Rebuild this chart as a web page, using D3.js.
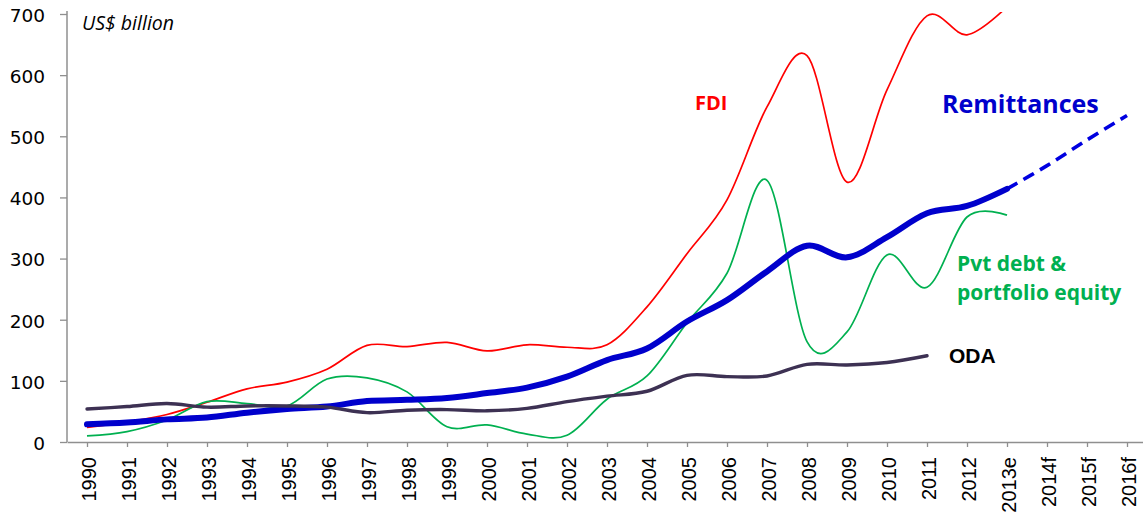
<!DOCTYPE html>
<html>
<head>
<meta charset="utf-8">
<script src="https://cdn.jsdelivr.net/npm/d3@7"></script>
<style>
  html, body { margin: 0; padding: 0; background: #fff; }
  svg { display: block; }
</style>
</head>
<body>
<svg id="chart" width="1143" height="514"></svg>
<script>
// ---- Data (US$ billion) ----
const years = ["1990","1991","1992","1993","1994","1995","1996","1997","1998","1999",
  "2000","2001","2002","2003","2004","2005","2006","2007","2008","2009","2010",
  "2011","2012","2013e","2014f","2015f","2016f"];
const yTicks = [0,100,200,300,400,500,600,700];

const fdiYears = years.slice(0, 24);
const fdi = [24,33,45,65,87,98,119,158,156,163,149,159,155,159,221,308,396,548,632,425,576,697,666,712];

const pvtYears = years.slice(0, 24);
const pvt = [10,17,36,66,63,59,103,105,82,25,28,13,11,70,108,195,276,428,164,180,306,253,368,371];

const remitYears = years.slice(0, 24);
const remit = [29,32,37,40,48,54,58,67,69,72,80,89,107,134,153,197,232,279,321,302,335,374,386,414];

const remitFcYears = ["2013e","2014f","2015f","2016f"];
const remitFc = [414,452,494,534];

const odaYears = years.slice(0, 22);
const oda = [54,58,63,57,59,59,57,48,52,53,51,55,66,75,83,109,107,108,127,126,130,141];

// ---- Chart ----
const svg = d3.select("#chart");
const x = d3.scalePoint().domain(years).range([67, 1147]).padding(0.5);
const y = d3.scaleLinear().domain([0, 700]).range([442, 14]);
const axisColor = "#8f8f8f";

svg.append("defs").append("clipPath").attr("id", "plotclip")
  .append("rect").attr("x", 60).attr("y", y(700) - 2).attr("width", 1100).attr("height", 460);

// Y axis
const gy = svg.append("g").attr("transform", "translate(67,0)")
  .call(d3.axisLeft(y).tickValues(yTicks).tickSize(7).tickSizeOuter(0).tickPadding(15).tickFormat(d3.format("d")));
gy.select(".domain").attr("stroke", axisColor).attr("stroke-width", 1.5)
  .attr("d", `M0,${y(700) - 3}V${y(0)}`);
gy.selectAll(".tick line").attr("stroke", axisColor).attr("stroke-width", 1.3);
gy.selectAll(".tick text").attr("fill", "#000")
  .style("font-family", "'DejaVu Sans', sans-serif").style("font-size", "18.5px")
  .attr("dy", "0.4em");

// X axis
const gx = svg.append("g").attr("transform", `translate(0,${y(0)})`)
  .call(d3.axisBottom(x).tickSize(5).tickSizeOuter(0));
gx.select(".domain").attr("stroke", axisColor).attr("stroke-width", 1.5);
gx.selectAll(".tick line").attr("stroke", axisColor).attr("stroke-width", 1.3);
gx.selectAll(".tick text").attr("fill", "#000")
  .style("font-family", "'Liberation Sans', Arial, sans-serif").style("font-size", "20px")
  .attr("transform", "rotate(-90)")
  .attr("x", -15).attr("y", 0).attr("dy", "0.43em")
  .attr("text-anchor", "end");

// Lines
const curve = d3.curveCatmullRom.alpha(0);
function mkLine(cats, vals) {
  const pts = cats.map((c, i) => ({c, v: vals[i]}));
  return d3.line().x(d => x(d.c)).y(d => y(d.v)).curve(curve)(pts);
}
const plot = svg.append("g").attr("clip-path", "url(#plotclip)");

plot.append("path").attr("d", mkLine(fdiYears, fdi))
  .attr("fill", "none").attr("stroke", "#ff0000").attr("stroke-width", 1.7);
plot.append("path").attr("d", mkLine(pvtYears, pvt))
  .attr("fill", "none").attr("stroke", "#00b050").attr("stroke-width", 1.7);
plot.append("path").attr("d", mkLine(remitFcYears, remitFc))
  .attr("fill", "none").attr("stroke", "#0000e0").attr("stroke-width", 3.6)
  .attr("stroke-dasharray", "12,7");
plot.append("path").attr("d", mkLine(remitYears, remit))
  .attr("fill", "none").attr("stroke", "#0000cc").attr("stroke-width", 6)
  .attr("stroke-linecap", "round");
plot.append("path").attr("d", mkLine(odaYears, oda))
  .attr("fill", "none").attr("stroke", "#3d3153").attr("stroke-width", 3.4)
  .attr("stroke-linecap", "round");

// Labels
svg.append("text").attr("x", 82).attr("y", 30).text("US$ billion")
  .style("font-family", "'Open Sans', sans-serif").style("font-style", "italic")
  .style("font-size", "19.5px").attr("fill", "#000");

const lab = (t, xx, yy, col, size, fam) => svg.append("text").attr("x", xx).attr("y", yy).text(t)
  .attr("fill", col).style("font-family", fam || "'Open Sans', sans-serif")
  .style("font-weight", "bold").style("font-size", size + "px");

lab("FDI", 695, 110, "#ff0000", 20);
lab("Remittances", 942, 113, "#0000cc", 25);
lab("Pvt debt &", 957, 271, "#00b050", 21);
lab("portfolio equity", 957, 300, "#00b050", 21);
lab("ODA", 949, 363, "#000", 21, "'Liberation Sans', Arial, sans-serif");
</script>
</body>
</html>
